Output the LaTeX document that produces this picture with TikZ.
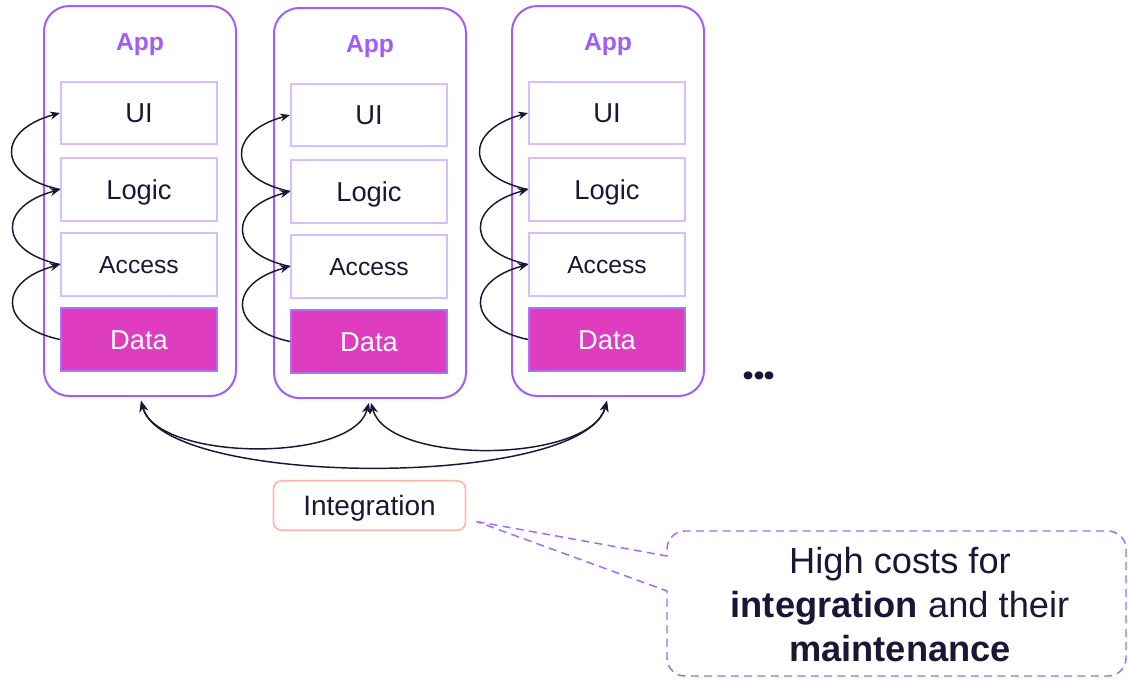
\documentclass[tikz,border=0pt]{standalone}
\usepackage{fontspec}
\setmainfont{Liberation Sans}
\newfontfamily\dotfont{Poppins}
\usetikzlibrary{arrows.meta,calc}
\definecolor{appviolet}{HTML}{A35CF8}
\definecolor{layerline}{HTML}{D9BDFF}
\definecolor{datafill}{HTML}{DE3DBF}
\definecolor{dataline}{HTML}{A874F5}
\definecolor{ink}{HTML}{1B1638}
\definecolor{integline}{HTML}{FFB7AF}
\definecolor{calloutline}{HTML}{A866FA}

\tikzset{
  appbox/.style={draw=appviolet, line width=1.5pt, rounded corners=19pt,
    minimum width=144pt, minimum height=292.5pt, inner sep=0pt},
  apptitle/.style={text=appviolet, font=\bfseries\fontsize{18.5}{20}\selectfont, anchor=base},
  layer/.style={draw=layerline, line width=1.4pt, minimum width=117pt, minimum height=47pt,
    inner sep=0pt, text=ink, font=\fontsize{20.5}{22}\selectfont, text height=14.7pt, text depth=0pt},
  smalllayer/.style={layer, font=\fontsize{18.5}{20}\selectfont, text height=13.2pt},
  datalayer/.style={layer, fill=datafill, draw=dataline, text=white},
  flow/.style={draw=ink, line width=1.1pt, -{Stealth[length=7.5pt,width=6pt,inset=2.5pt]}},
  link/.style={draw=ink, line width=1.1pt,
    {Stealth[length=8pt,width=6.5pt,inset=2.5pt]}-{Stealth[length=8pt,width=6.5pt,inset=2.5pt]},
    shorten <=3pt, shorten >=3pt},
  integbox/.style={draw=integline, line width=1.3pt, rounded corners=6pt, minimum width=144pt,
    minimum height=37pt, inner sep=0pt, text=ink, font=\fontsize{21}{22}\selectfont,
    text height=15pt, text depth=0pt},
  callout/.style={draw=calloutline, line width=1.1pt, dash pattern=on 6pt off 4pt},
  notetext/.style={text=ink, font=\fontsize{27.2}{33}\selectfont, align=center},
}

\begin{document}
\begin{tikzpicture}[x=0.75pt,y=0.75pt]
\useasboundingbox (0,0) rectangle (1128,-679);

% three application stacks
\foreach \i/\cx/\dy in {1/140/0, 2/370/2, 3/608/0}{
  \node[appbox] (app\i) at (\cx,-201-\dy) {};
  \node[apptitle] (title\i) at (\cx,-50-\dy) {App};
  \node[layer] (ui\i) at (\cx-1,-113-\dy) {UI};
  \node[layer] (logic\i) at (\cx-1,-189.5-\dy) {Logic};
  \node[smalllayer] (access\i) at (\cx-1,-264.5-\dy) {Access};
  \node[datalayer] (data\i) at (\cx-1,-339.5-\dy) {Data};
  % calls between neighbouring layers
  \draw[flow] (data\i.west) to[out=168,in=195,looseness=2.2] (access\i.west);
  \draw[flow] (access\i.west) to[out=168,in=195,looseness=2.2] (logic\i.west);
  \draw[flow] (logic\i.west) to[out=168,in=195,looseness=2.2] (ui\i.west);
}

% ellipsis for further applications
\node[text=ink, anchor=base, inner sep=0pt] (more) at (759,-379)
  {\dotfont\bfseries\fontsize{32}{32}\selectfont .\kern-1pt.\kern-1pt.};

% point-to-point integrations
\draw[link] (app1.south) to[out=-75,in=-105,looseness=0.74] (app2.south);
\draw[link] (app2.south) to[out=-75,in=-105,looseness=0.74] (app3.south);
\draw[link] (app1.south) to[out=-75,in=-105,looseness=0.52] (app3.south);

\node[integbox] (integ) at (369.5,-505.5) {Integration};

% speech bubble with its tail
\coordinate (tip) at ($(integ.east)+(10,-16)$);
\draw[callout] (tip) -- (667,-556) -- (667,-549)
  arc[start angle=180,end angle=90,radius=18] -- (1108,-531)
  arc[start angle=90,end angle=0,radius=18] -- (1126,-658)
  arc[start angle=0,end angle=-90,radius=18] -- (685,-676)
  arc[start angle=-90,end angle=-180,radius=18] -- (667,-591) -- (tip);

\node[notetext] (note) at (900,-605)
  {High costs for\\ \textbf{integration} and their\\ \textbf{maintenance}};
\end{tikzpicture}
\end{document}
